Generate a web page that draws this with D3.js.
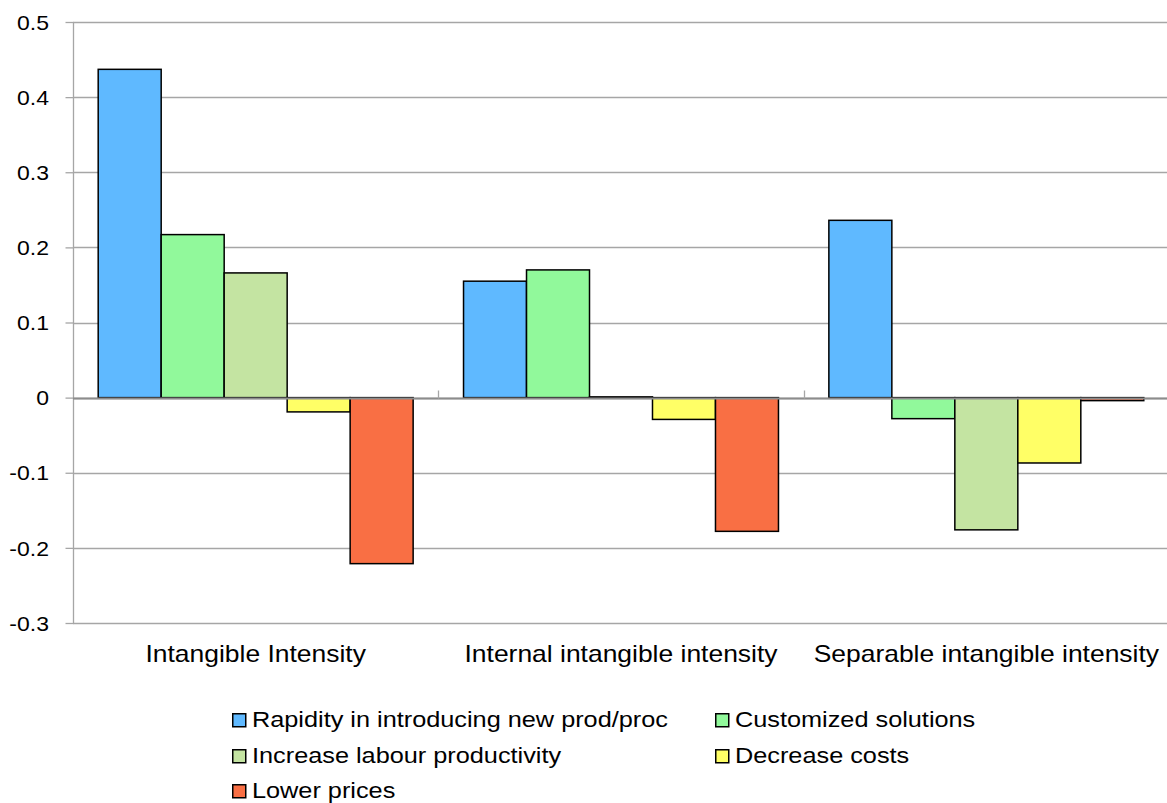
<!DOCTYPE html>
<html>
<head>
<meta charset="utf-8">
<script src="https://cdn.jsdelivr.net/npm/d3@7/dist/d3.min.js"></script>
<style>
  html, body { margin: 0; padding: 0; background: #fff; }
  svg { display: block; font-family: "Liberation Sans", Arial, sans-serif; }
</style>
</head>
<body>
<svg id="chart" width="1167" height="803"></svg>
<script>
// Categories along the x axis
const categories = ["Intangible Intensity", "Internal intangible intensity", "Separable intangible intensity"];

// Series names, in drawing order
const seriesNames = [
  "Rapidity in introducing new prod/proc",
  "Customized solutions",
  "Increase labour productivity",
  "Decrease costs",
  "Lower prices"
];

// Values for each series, one per category
const rapidity   = [0.437, 0.155, 0.236];
const customized = [0.217, 0.170, -0.028];
const labour     = [0.166, 0.001, -0.176];
const costs      = [-0.019, -0.029, -0.087];
const prices     = [-0.221, -0.178, -0.004];

const yTicks = [-0.3, -0.2, -0.1, 0, 0.1, 0.2, 0.3, 0.4, 0.5];
const yTickLabels = ["-0.3", "-0.2", "-0.1", "0", "0.1", "0.2", "0.3", "0.4", "0.5"];

const seriesValues = [rapidity, customized, labour, costs, prices];
const colors = ["#5fb9ff", "#91f99b", "#c4e4a2", "#ffff66", "#f96f44"];

// Text is drawn slightly wide
const stretch = 1.15;

const svg = d3.select("#chart");
const plot = { left: 73, right: 1169, top: 22, bottom: 623 };

const x0 = d3.scaleBand().domain(categories).range([plot.left, plot.right]).paddingInner(0).paddingOuter(0);
const x1 = d3.scaleBand().domain(seriesNames).range([0, x0.bandwidth()]).paddingOuter(0.4).paddingInner(0);
const y = d3.scaleLinear().domain([-0.3, 0.5]).range([plot.bottom, plot.top]);

// Horizontal gridlines
svg.append("g").selectAll("line").data(yTicks).join("line")
  .attr("x1", plot.left).attr("x2", plot.right)
  .attr("y1", d => Math.round(y(d)) + 0.5).attr("y2", d => Math.round(y(d)) + 0.5)
  .attr("stroke", "#a6a6a6").attr("stroke-width", 1.3);

// Y axis
const yAxis = d3.axisLeft(y).tickValues(yTicks).tickFormat((d, i) => yTickLabels[i]).tickSize(8);
const gy = svg.append("g").attr("transform", `translate(${plot.left + 0.5},0)`).call(yAxis);
gy.select(".domain").attr("stroke", "#a6a6a6").attr("stroke-width", 1.3).attr("d", `M0,${plot.top}V${plot.bottom}`);
gy.selectAll(".tick line").attr("stroke", "#a6a6a6").attr("stroke-width", 1.3);
gy.selectAll(".tick text")
  .attr("x", 0).attr("dy", "0.36em")
  .attr("transform", `translate(-24.5,0) scale(${stretch},1)`)
  .attr("font-size", 20).attr("fill", "#000")
  .attr("font-family", "'Liberation Sans', Arial, sans-serif");

// Bars
const groups = svg.append("g").selectAll("g").data(categories).join("g")
  .attr("transform", d => `translate(${x0(d)},0)`);

groups.selectAll("rect")
  .data((c, ci) => seriesNames.map((s, si) => ({ s, si, v: seriesValues[si][ci] })))
  .join("rect")
  .attr("x", d => x1(d.s))
  .attr("width", x1.bandwidth())
  .attr("y", d => y(Math.max(0, d.v)))
  .attr("height", d => Math.abs(y(d.v) - y(0)))
  .attr("fill", d => colors[d.si])
  .attr("stroke", "#000")
  .attr("stroke-width", 1.5);

// Zero axis line with category separators
const zy = Math.round(y(0)) + 0.5;
svg.append("line").attr("x1", plot.left).attr("x2", plot.right).attr("y1", zy).attr("y2", zy)
  .attr("stroke", "#8c8c8c").attr("stroke-width", 2);
svg.append("g").selectAll("line").data(categories.slice(1)).join("line")
  .attr("x1", d => Math.round(x0(d)) + 0.5).attr("x2", d => Math.round(x0(d)) + 0.5)
  .attr("y1", zy - 8).attr("y2", zy)
  .attr("stroke", "#a6a6a6").attr("stroke-width", 1.3);

// Category labels
svg.append("g").selectAll("text").data(categories).join("text")
  .attr("transform", d => `translate(${x0(d) + x0.bandwidth() / 2},662) scale(${stretch},1)`)
  .attr("text-anchor", "middle")
  .attr("font-size", 23)
  .attr("fill", "#000")
  .text(d => d);

// Legend
const legendPos = [
  { x: 232, y: 727 }, { x: 715, y: 727 },
  { x: 232, y: 763 }, { x: 715, y: 763 },
  { x: 232, y: 798 }
];
const legend = svg.append("g").selectAll("g").data(seriesNames).join("g")
  .attr("transform", (d, i) => `translate(${legendPos[i].x},${legendPos[i].y})`);
legend.append("rect")
  .attr("x", 0.75).attr("y", -13.25).attr("width", 13).attr("height", 13)
  .attr("fill", (d, i) => colors[i]).attr("stroke", "#000").attr("stroke-width", 1.5);
legend.append("text")
  .attr("transform", `translate(20,0) scale(${stretch},1)`)
  .attr("font-size", 22)
  .attr("fill", "#000")
  .text(d => d);
</script>
</body>
</html>
